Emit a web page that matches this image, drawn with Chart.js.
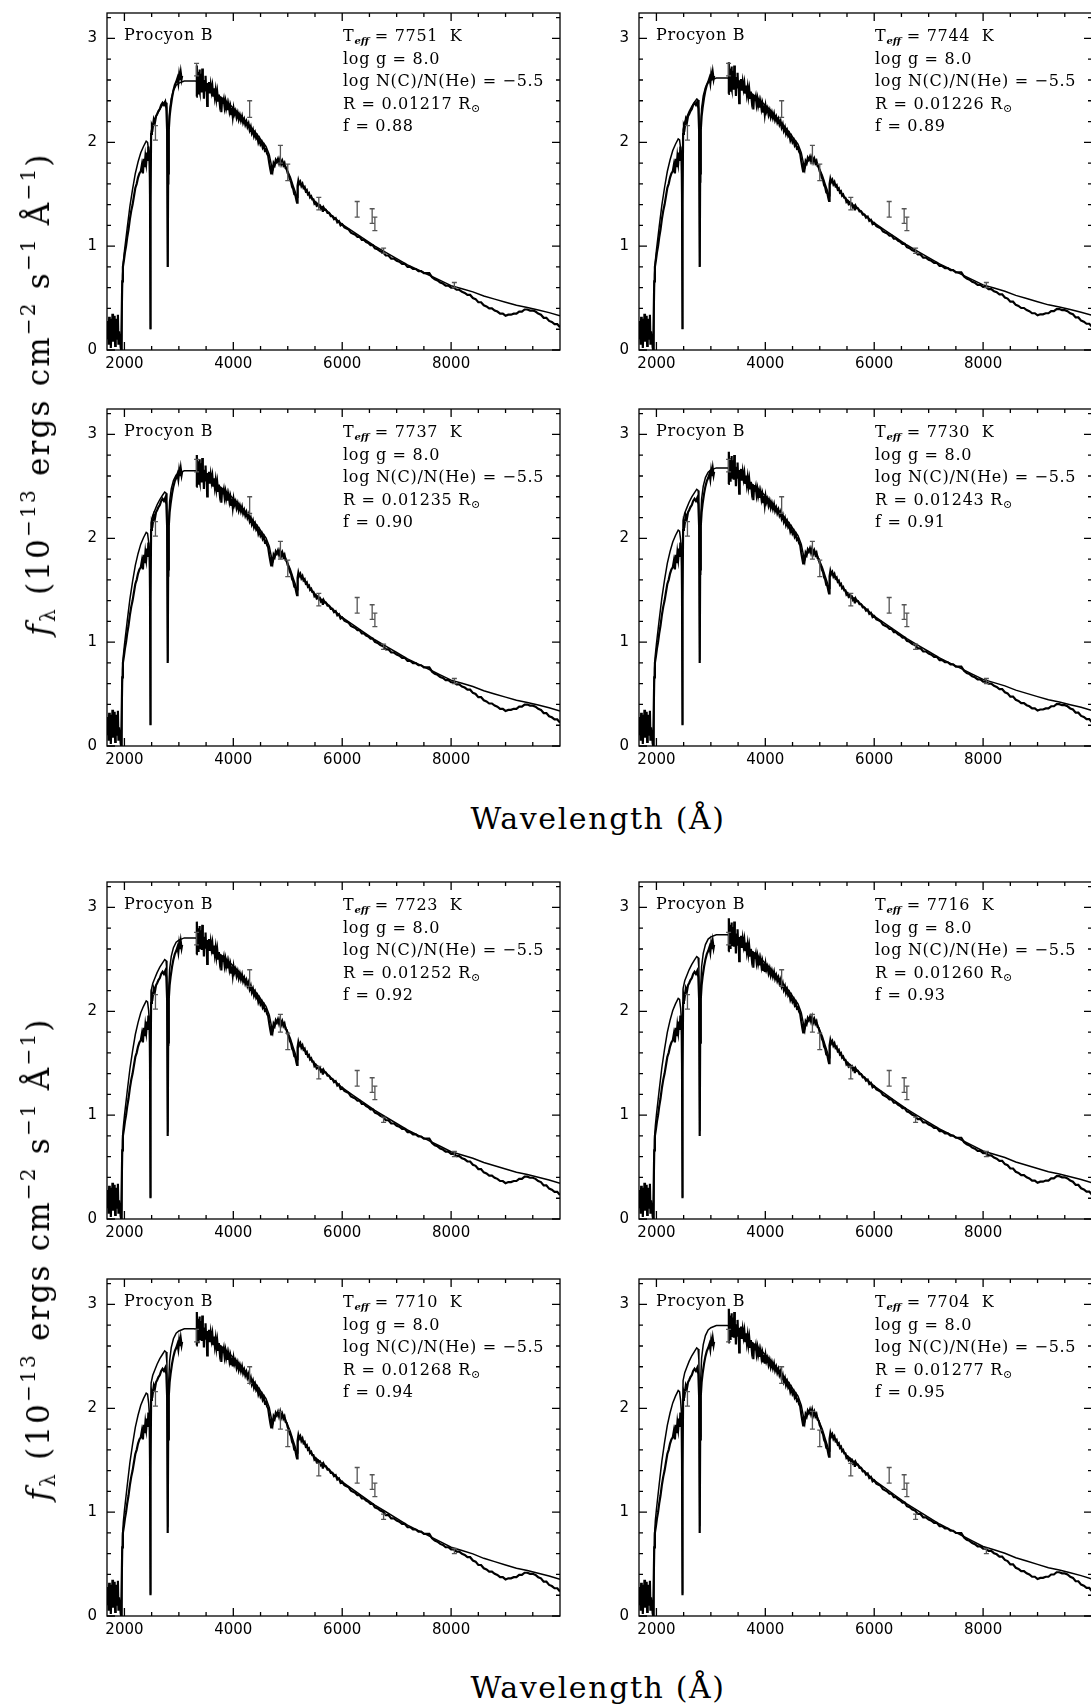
<!DOCTYPE html>
<html lang="en">

<head>
    <meta charset="UTF-8">
    <title>Procyon B</title>
    <style>
        html, body { margin: 0; padding: 0; background: #fff; overflow: hidden; }
        #wrap { position: relative; width: 1091px; height: 1705px; overflow: hidden; }
        .txt { position: absolute; font-family: "DejaVu Serif", serif; color: #000; white-space: pre; }
        .note { font-size: 16px; line-height: 22.6px; letter-spacing: 0.7px; }
        .note sub { font-size: 10px; font-weight: bold; font-style: italic; vertical-align: -3px; line-height: 0; letter-spacing: 0; }
        .note sub.sun { font-style: normal; font-weight: normal; font-size: 11px; }
        .title { font-size: 30px; letter-spacing: 1.6px; transform: translate(-50%, -50%); }
        .ytitle { font-size: 31px; letter-spacing: 2.2px; transform: translate(-50%, -50%) rotate(-90deg); }
        .ytitle sup { font-size: 20px; vertical-align: 14px; line-height: 0; }
        .ytitle sub { font-size: 20px; vertical-align: -6px; line-height: 0; }
    </style>
</head>

<body>
    <div id="wrap"></div>

    <script src="https://cdn.jsdelivr.net/npm/chart.js"></script>

    <script>
        // observed spectrum (first panel), wavelength in A, flux in 1e-13
        const obsWave = [
            1690, 1700, 1710, 1720, 1730, 1740, 1750, 1760, 1770, 1780, 1790, 1800, 1810,
            1820, 1830, 1840, 1850, 1860, 1870, 1880, 1890, 1900, 1910, 1920, 1930, 1940,
            1952, 1960, 1972, 1990, 2010, 2030, 2050, 2075, 2100, 2125, 2150, 2175, 2200,
            2225, 2250, 2275, 2300, 2320, 2340, 2355, 2370, 2385, 2400, 2415, 2428, 2440,
            2452, 2462, 2470, 2476, 2482, 2490, 2505, 2520, 2540, 2560, 2580, 2600, 2625,
            2650, 2675, 2700, 2725, 2750, 2770, 2785, 2795, 2803, 2815, 2830, 2850, 2875,
            2900, 2925, 2950, 2975, 2990, 3005, 3020, 3035, 3050, 3060, 3100,
            3320, 3330, 3338, 3346, 3354, 3362, 3370, 3378, 3386, 3394, 3402, 3410, 3420,
            3430, 3440, 3450, 3460, 3470, 3480, 3490, 3500, 3510, 3520, 3530, 3540, 3555,
            3570, 3585, 3600, 3615, 3630, 3645, 3660, 3675, 3690, 3705, 3720, 3735, 3750,
            3765, 3780, 3795, 3810, 3825, 3840, 3855, 3870, 3885, 3900, 3915, 3930, 3945,
            3960, 3975, 3990, 4005, 4020, 4040, 4060, 4080, 4100, 4120, 4140, 4160, 4180,
            4200, 4220, 4240, 4260, 4280, 4300, 4320, 4340, 4360, 4380, 4400, 4420, 4440,
            4460, 4480, 4500, 4520, 4540, 4560, 4580, 4600, 4620, 4640, 4660, 4680, 4695,
            4710, 4725, 4740, 4760, 4780, 4800, 4820, 4840, 4860, 4880, 4900, 4920, 4940,
            4960, 4980, 5000, 5020, 5040, 5060, 5080, 5100, 5120, 5140, 5160, 5170, 5180,
            5195, 5210, 5230, 5250, 5270, 5290, 5310, 5330, 5350, 5370, 5390, 5410, 5430,
            5450, 5470, 5490, 5510, 5530, 5550, 5570, 5590, 5610, 5630, 5645, 5660, 5680,
            5700, 5730, 5760, 5790, 5820, 5850, 5880, 5910, 5940, 5970, 6000, 6040, 6080,
            6120, 6160, 6200, 6240, 6280, 6320, 6360, 6400, 6440, 6480, 6520, 6560, 6600,
            6650, 6700, 6750, 6800, 6850, 6900, 6950, 7000, 7050, 7100, 7150, 7200, 7250,
            7300, 7350, 7400, 7450, 7500, 7550, 7600, 7650, 7700, 7750, 7800, 7850, 7900,
            7950, 8000, 8050, 8100, 8150, 8200, 8250, 8300, 8350, 8400, 8450, 8500, 8550,
            8600, 8650, 8700, 8750, 8800, 8850, 8900, 8950, 9000, 9050, 9100, 9150, 9200,
            9250, 9300, 9350, 9400, 9450, 9500, 9550, 9600, 9650, 9700, 9750, 9800, 9850,
            9900, 9950, 10000
        ];
        const obsFlux = [
            0.10, 0.28, 0.05, 0.32, 0.15, 0.30, 0.02, 0.20, 0.12, 0.35, 0.08, 0.26, 0.18,
            0.33, 0.04, 0.22, 0.30, 0.10, 0.25, 0.34, 0.06, 0.18, 0.10, 0.15, 0.03, 0.00,
            0.00, 0.66, 0.80, 0.86, 0.94, 1.00, 1.08, 1.16, 1.26, 1.34, 1.40, 1.48, 1.56,
            1.60, 1.66, 1.70, 1.72, 1.78, 1.70, 1.84, 1.76, 1.86, 1.80, 1.90, 1.82, 1.96,
            1.86, 1.92, 1.50, 0.20, 1.40, 2.08, 2.16, 2.14, 2.22, 2.19, 2.25, 2.27, 2.30,
            2.32, 2.36, 2.38, 2.36, 2.39, 2.33, 2.10, 0.80, 1.70, 2.12, 2.25, 2.34, 2.43,
            2.50, 2.55, 2.58, 2.62, 2.57, 2.65, 2.60, 2.67, 2.61, 2.64, null,
            2.44, 2.74, 2.50, 2.68, 2.47, 2.63, 2.52, 2.70, 2.49, 2.61, 2.55, 2.66, 2.48,
            2.71, 2.54, 2.60, 2.42, 2.59, 2.51, 2.64, 2.50, 2.56, 2.35, 2.57, 2.49, 2.58,
            2.47, 2.55, 2.49, 2.54, 2.45, 2.52, 2.44, 2.50, 2.42, 2.48, 2.40, 2.46, 2.38,
            2.44, 2.29, 2.43, 2.37, 2.41, 2.34, 2.39, 2.33, 2.37, 2.31, 2.36, 2.30, 2.34,
            2.27, 2.33, 2.25, 2.32, 2.27, 2.30, 2.24, 2.28, 2.22, 2.26, 2.21, 2.25, 2.19,
            2.22, 2.17, 2.20, 2.15, 2.18, 2.12, 2.15, 2.09, 2.12, 2.06, 2.09, 2.04, 2.06,
            2.00, 2.03, 1.98, 2.00, 1.95, 1.97, 1.92, 1.93, 1.89, 1.87, 1.80, 1.74, 1.70,
            1.78, 1.74, 1.80, 1.78, 1.83, 1.81, 1.84, 1.80, 1.84, 1.79, 1.82, 1.78, 1.80,
            1.75, 1.74, 1.70, 1.68, 1.64, 1.62, 1.57, 1.55, 1.50, 1.49, 1.44, 1.42, 1.58,
            1.63, 1.60, 1.62, 1.58, 1.60, 1.56, 1.57, 1.53, 1.54, 1.50, 1.51, 1.47, 1.48,
            1.45, 1.45, 1.41, 1.42, 1.39, 1.40, 1.38, 1.39, 1.36, 1.37, 1.33, 1.37, 1.35,
            1.35, 1.32, 1.32, 1.29, 1.29, 1.26, 1.27, 1.23, 1.24, 1.20, 1.21, 1.18, 1.17,
            1.16, 1.13, 1.12, 1.11, 1.09, 1.09, 1.06, 1.06, 1.04, 1.03, 1.01, 1.01, 0.98,
            0.97, 0.95, 0.94, 0.91, 0.91, 0.88, 0.88, 0.86, 0.85, 0.83, 0.83, 0.80, 0.80,
            0.78, 0.78, 0.76, 0.76, 0.74, 0.74, 0.74, 0.70, 0.68, 0.67, 0.65, 0.64, 0.62,
            0.62, 0.60, 0.60, 0.58, 0.58, 0.56, 0.55, 0.53, 0.53, 0.50, 0.49, 0.46, 0.46,
            0.43, 0.42, 0.40, 0.40, 0.38, 0.37, 0.35, 0.35, 0.33, 0.34, 0.34, 0.35, 0.35,
            0.37, 0.37, 0.39, 0.39, 0.38, 0.38, 0.37, 0.35, 0.34, 0.31, 0.31, 0.28, 0.27,
            0.25, 0.25, 0.22
        ];

        // model spectrum (first panel)
        const modelWave = [
            1945, 1955, 1965, 1980, 2000, 2050, 2100, 2150, 2200, 2250, 2300, 2350, 2400,
            2425, 2445, 2460, 2470, 2477, 2483, 2490, 2520, 2560, 2600, 2650, 2700, 2740,
            2765, 2780, 2790, 2796, 2802, 2812, 2830, 2860, 2900, 2950, 3000, 3100, 3200,
            3300, 3400, 3500, 3600, 3700, 3800, 3900, 4000, 4100, 4200, 4300, 4400, 4500,
            4600, 4660, 4700, 4730, 4760, 4800, 4850, 4900, 4950, 5000, 5050, 5100, 5140,
            5170, 5185, 5220, 5300, 5400, 5500, 5600, 5640, 5680, 5800, 6000, 6200, 6400,
            6600, 6800, 7000, 7200, 7400, 7600, 7800, 8000, 8200, 8400, 8600, 8800, 9000,
            9200, 9400, 9600, 9800, 10000
        ];
        const modelFlux = [
            0.00, 0.45, 0.72, 0.85, 0.95, 1.17, 1.38, 1.55, 1.70, 1.81, 1.90, 1.96, 2.01,
            2.00, 1.92, 1.80, 1.55, 0.20, 1.80, 2.10, 2.17, 2.22, 2.27, 2.32, 2.36, 2.39,
            2.38, 2.28, 1.60, 0.80, 1.60, 2.10, 2.30, 2.42, 2.50, 2.55, 2.57, 2.59, 2.59,
            2.59, 2.58, 2.54, 2.50, 2.46, 2.42, 2.38, 2.33, 2.28, 2.22, 2.16, 2.10, 2.03,
            1.96, 1.88, 1.78, 1.74, 1.78, 1.82, 1.83, 1.82, 1.78, 1.72, 1.66, 1.58, 1.52,
            1.47, 1.60, 1.61, 1.56, 1.49, 1.43, 1.39, 1.36, 1.36, 1.30, 1.21, 1.14, 1.07,
            1.00, 0.94, 0.88, 0.82, 0.77, 0.72, 0.67, 0.62, 0.59, 0.56, 0.52, 0.49, 0.46,
            0.43, 0.41, 0.385, 0.36, 0.33
        ];

        // photometry error bars
        const photWave = [2570, 3325, 4300, 4865, 5000, 5570, 6275, 6550, 6600, 6760, 8060];
        const photLow = [2.02, 2.64, 2.24, 1.80, 1.63, 1.35, 1.28, 1.22, 1.15, 0.93, 0.60];
        const photHigh = [2.16, 2.76, 2.40, 1.97, 1.79, 1.47, 1.43, 1.36, 1.28, 0.98, 0.65];

        // panel parameters
        const teff = [7751, 7744, 7737, 7730, 7723, 7716, 7710, 7704];
        const radius = ["0.01217", "0.01226", "0.01235", "0.01243", "0.01252", "0.01260", "0.01268", "0.01277"];
        const fValue = ["0.88", "0.89", "0.90", "0.91", "0.92", "0.93", "0.94", "0.95"];
        const heightScale = [1.000, 1.011, 1.023, 1.034, 1.045, 1.057, 1.068, 1.080];

        const xTicks = [2000, 4000, 6000, 8000];
        const xMinor = [2500, 3000, 3500, 4500, 5000, 5500, 6500, 7000, 7500, 8500, 9000, 9500];
        const yTicks = [0, 1, 2, 3];
        const yMinor = [0.2, 0.4, 0.6, 0.8, 1.2, 1.4, 1.6, 1.8, 2.2, 2.4, 2.6, 2.8, 3.2];

        const v_wrap = document.getElementById("wrap");
        const colLeft = [107, 639];
        const rowTop = [13, 409, 882, 1279];
        const frameW = 453, frameH = 337;
        const padL = 60, padT = 8, padR = 8, padB = 35;

        // frame, inward ticks and error bars
        const framePlugin = {
            id: "frame",
            afterDatasetsDraw(chart) {
                const ctx = chart.ctx;
                const a = chart.chartArea;
                const xs = chart.scales.x, ys = chart.scales.y;
                ctx.save();
                ctx.strokeStyle = "#555";
                ctx.lineWidth = 1.3;
                for (let j = 0; j < photWave.length; j++) {
                    const px = xs.getPixelForValue(photWave[j]);
                    const p1 = ys.getPixelForValue(photLow[j]);
                    const p2 = ys.getPixelForValue(photHigh[j]);
                    ctx.beginPath();
                    ctx.moveTo(px, p1); ctx.lineTo(px, p2);
                    ctx.moveTo(px - 2.5, p1); ctx.lineTo(px + 2.5, p1);
                    ctx.moveTo(px - 2.5, p2); ctx.lineTo(px + 2.5, p2);
                    ctx.stroke();
                }
                ctx.strokeStyle = "#000";
                ctx.lineWidth = 1.3;
                ctx.strokeRect(a.left, a.top, a.right - a.left, a.bottom - a.top);
                ctx.beginPath();
                const tickX = (v, len) => {
                    const px = xs.getPixelForValue(v);
                    ctx.moveTo(px, a.bottom); ctx.lineTo(px, a.bottom - len);
                    ctx.moveTo(px, a.top); ctx.lineTo(px, a.top + len);
                };
                const tickY = (v, len) => {
                    const py = ys.getPixelForValue(v);
                    ctx.moveTo(a.left, py); ctx.lineTo(a.left + len, py);
                    ctx.moveTo(a.right, py); ctx.lineTo(a.right - len, py);
                };
                xTicks.forEach(v => tickX(v, 8));
                xMinor.forEach(v => tickX(v, 4));
                yTicks.forEach(v => tickY(v, 8));
                yMinor.forEach(v => tickY(v, 4));
                ctx.stroke();
                ctx.restore();
            }
        };

        function addText(cls, html, left, top) {
            let d = document.createElement("div");
            d.className = "txt " + cls;
            d.innerHTML = html;
            d.style.left = left + "px";
            d.style.top = top + "px";
            v_wrap.appendChild(d);
        }

        for (let i = 0; i < 8; i++) {
            let col = i % 2;
            let row = Math.floor(i / 2);
            let fx = colLeft[col];
            let fy = rowTop[row];

            let cv = document.createElement("canvas");
            cv.width = frameW + padL + padR;
            cv.height = frameH + padT + padB;
            cv.style.cssText = "position:absolute;left:" + (fx - padL) + "px;top:" + (fy - padT) + "px;width:" + cv.width + "px;height:" + cv.height + "px";
            v_wrap.appendChild(cv);

            let obsData = [];
            for (let k = 0; k < obsWave.length; k++) {
                let y = obsFlux[k];
                if (y !== null && obsWave[k] > 3300) y = y * heightScale[i];
                obsData.push({ x: obsWave[k], y: y });
            }
            let modelData = [];
            for (let k = 0; k < modelWave.length; k++) {
                modelData.push({ x: modelWave[k], y: modelFlux[k] * heightScale[i] });
            }

            new Chart(cv, {
                type: "line",
                data: {
                    datasets: [{
                        label: "model",
                        data: modelData,
                        borderColor: "#000",
                        borderWidth: 1.5,
                        pointRadius: 0,
                        tension: 0
                    }, {
                        label: "observed",
                        data: obsData,
                        borderColor: "#000",
                        borderWidth: 2.2,
                        pointRadius: 0,
                        tension: 0,
                        spanGaps: false
                    }]
                },
                options: {
                    responsive: false,
                    devicePixelRatio: 1,
                    animation: false,
                    events: [],
                    layout: { padding: { left: 0, top: padT, right: padR, bottom: 0 } },
                    plugins: { legend: { display: false }, tooltip: { enabled: false } },
                    scales: {
                        x: {
                            type: "linear",
                            min: 1680,
                            max: 10000,
                            grid: { display: false, drawTicks: false },
                            border: { display: false },
                            afterBuildTicks: (s) => { s.ticks = xTicks.map(v => ({ value: v })); },
                            afterFit: (s) => { s.height = padB; s.paddingLeft = 0; s.paddingRight = 0; },
                            ticks: {
                                color: "#000",
                                padding: 5,
                                autoSkip: false,
                                maxRotation: 0,
                                font: { family: "DejaVu Sans", size: 15 },
                                callback: (v) => String(v)
                            }
                        },
                        y: {
                            min: 0,
                            max: 3.245,
                            grid: { display: false, drawTicks: false },
                            border: { display: false },
                            afterBuildTicks: (s) => { s.ticks = yTicks.map(v => ({ value: v })); },
                            afterFit: (s) => { s.width = padL; s.paddingTop = 0; s.paddingBottom = 0; },
                            ticks: {
                                color: "#000",
                                padding: 10,
                                font: { family: "DejaVu Sans", size: 15 },
                                callback: (v) => String(v)
                            }
                        }
                    }
                },
                plugins: [framePlugin]
            });

            addText("note", "Procyon B", fx + 17, fy + 11);
            addText("note",
                "T<sub>eff</sub> = " + teff[i] + "  K\n" +
                "log g = 8.0\n" +
                "log N(C)/N(He) = \u22125.5\n" +
                "R = " + radius[i] + " R<sub class=\"sun\">\u2299</sub>\n" +
                "f = " + fValue[i],
                fx + 236, fy + 12);
        }

        addText("title", "Wavelength (\u00c5)", 598, 818);
        addText("title", "Wavelength (\u00c5)", 598, 1687);
        let yLab = "<i>f</i><sub>\u03bb</sub> (10<sup>\u221213</sup> ergs cm<sup>\u22122</sup> s<sup>\u22121</sup> \u00c5<sup>\u22121</sup>)";
        addText("ytitle", yLab, 38, 394);
        addText("ytitle", yLab, 38, 1259);
    </script>
</body>

</html>
